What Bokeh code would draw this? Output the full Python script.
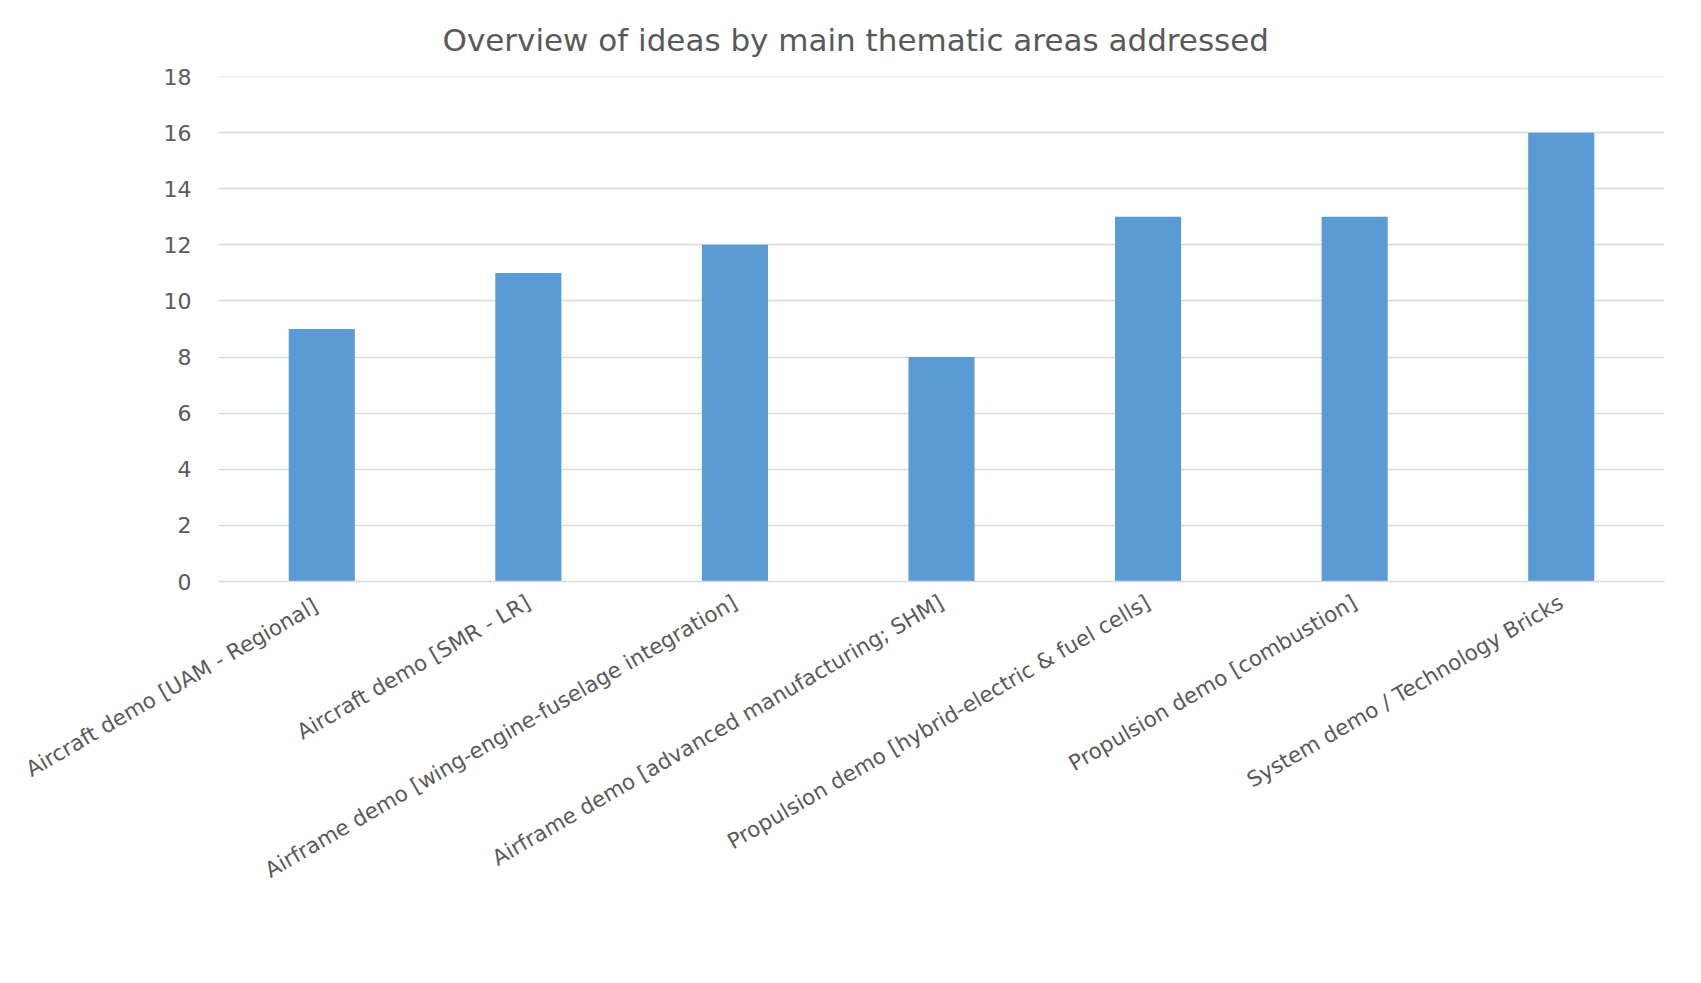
from bokeh.plotting import figure
from bokeh.models import Range1d, FixedTicker, FactorRange
from bokeh.embed import file_html
from bokeh.resources import INLINE

categories = [
    "Aircraft demo  [UAM - Regional]",
    "Aircraft demo [SMR - LR]",
    "Airframe demo [wing-engine-fuselage integration]",
    "Airframe demo [advanced manufacturing; SHM]",
    "Propulsion demo [hybrid-electric & fuel cells]",
    "Propulsion demo [combustion]",
    "System demo / Technology Bricks",
]
ideas = [9, 11, 12, 8, 13, 13, 16]
y_ticks = [0, 2, 4, 6, 8, 10, 12, 14, 16, 18]
title_text = "Overview of ideas by main thematic areas addressed"

TEXT = "#595959"
GRID = "#D9D9D9"
BAR = "#5B9BD5"
FONT = "DejaVu Sans"

p = figure(
    x_range=FactorRange(*categories, range_padding=0),
    y_range=Range1d(0, 18.002),
    width=1685, height=967,
    output_backend="svg", toolbar_location=None,
    min_border_left=218, min_border_right=21,
    min_border_top=76, min_border_bottom=386,
    title=title_text,
)
p.vbar(x=categories, top=ideas, width=0.32, fill_color=BAR, line_color=None)

p.title.align = "left"
p.title.offset = 224
p.title.standoff = 38
p.title.text_font = FONT
p.title.text_font_size = "31px"
p.title.text_font_style = "normal"
p.title.text_color = TEXT

p.outline_line_color = None
p.background_fill_color = "white"
p.border_fill_color = "white"

p.xgrid.grid_line_color = None
p.ygrid.grid_line_color = GRID
p.ygrid.grid_line_width = 1.5

p.yaxis.ticker = FixedTicker(ticks=y_ticks)
p.yaxis.axis_line_color = None
p.yaxis.major_tick_line_color = None
p.yaxis.minor_tick_line_color = None
p.yaxis.major_tick_out = 0
p.yaxis.major_tick_in = 0
p.yaxis.major_label_standoff = 27
p.yaxis.major_label_text_font = FONT
p.yaxis.major_label_text_font_size = "22px"
p.yaxis.major_label_text_color = TEXT

p.xaxis.axis_line_color = GRID
p.xaxis.axis_line_width = 1.5
p.xaxis.major_tick_line_color = None
p.xaxis.minor_tick_line_color = None
p.xaxis.major_tick_out = 0
p.xaxis.major_tick_in = 0
p.xaxis.major_label_standoff = 19
p.xaxis.major_label_orientation = 0.525
p.xaxis.major_label_text_font = FONT
p.xaxis.major_label_text_font_size = "21.5px"
p.xaxis.major_label_text_color = TEXT

open("out.html", "w").write(file_html(p, INLINE))
